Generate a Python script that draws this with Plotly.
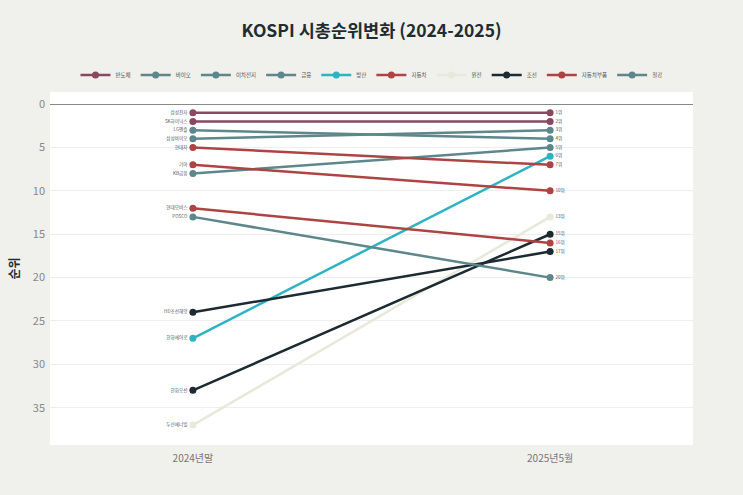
import plotly.graph_objects as go

periods = ["2024년말", "2025년5월"]
companies = ["삼성전자", "SK하이닉스", "삼성바이오", "LG엔솔", "KB금융", "한화에어로",
             "현대차", "기아", "두산에너빌", "한화오션", "현대모비스", "HD조선해양", "POSCO"]
sectors = ["반도체", "반도체", "바이오", "이차전지", "금융", "방산",
           "자동차", "자동차", "원전", "조선", "자동차부품", "조선", "철강"]
rank_2024 = [1, 2, 4, 3, 8, 27, 5, 7, 37, 33, 12, 24, 13]
rank_2025 = [1, 2, 3, 4, 5, 6, 7, 10, 13, 15, 16, 17, 20]

sector_colors = {
    "반도체": "#8A4760",
    "바이오": "#5E878B",
    "이차전지": "#5E878B",
    "금융": "#5E878B",
    "방산": "#2EB3C2",
    "자동차": "#AE4343",
    "원전": "#E8E9DA",
    "조선": "#1C2A31",
    "자동차부품": "#AE4343",
    "철강": "#5E878B",
}

fig = go.Figure()
seen = set()
for name, sec, r0, r1 in zip(companies, sectors, rank_2024, rank_2025):
    show = sec not in seen
    seen.add(sec)
    fig.add_trace(go.Scatter(
        x=periods, y=[r0, r1], name=sec, legendgroup=sec, showlegend=show,
        mode="lines+markers+text",
        line=dict(color=sector_colors[sec], width=2.5),
        marker=dict(color=sector_colors[sec], size=7),
        text=[name, f"{r1}위"],
        textposition=["middle left", "middle right"],
        textfont=dict(size=4.6, color="#555555", family="Noto Sans CJK KR"),
        hovertemplate=name + ": %{y}위<extra></extra>",
    ))

fig.update_layout(
    width=743, height=495,
    paper_bgcolor="#F0F0EC", plot_bgcolor="#FFFFFF",
    margin=dict(l=50, r=50, t=92, b=50),
    font=dict(family="Noto Sans CJK KR", color="#333333"),
    title=dict(text="<b>KOSPI 시총순위변화 (2024-2025)</b>", x=0.5, xanchor="center",
               y=1 - 31 / 495, yanchor="middle", yref="container",
               font=dict(size=17.5, color="#1F2D33", family="Noto Sans CJK KR")),
    legend=dict(orientation="h", x=0.5, xanchor="center", y=1.048, yanchor="middle",
                font=dict(size=5.5, color="#555555"), bgcolor="rgba(0,0,0,0)",
                itemwidth=30, tracegroupgap=0),
    showlegend=True,
)
fig.update_xaxes(type="category", range=[-0.4, 1.4], showgrid=False, zeroline=False,
                 showline=False, tickfont=dict(size=10, color="#777777"), ticks="",
                 ticklabelstandoff=6)
fig.update_yaxes(range=[39.3, -1.4], dtick=5, tick0=0, showgrid=True, gridcolor="#EEEEEE",
                 zeroline=True, zerolinecolor="#888888", zerolinewidth=1,
                 tickfont=dict(size=11, color="#888888"), ticklabelstandoff=4,
                 title=dict(text="<b>순위</b>", font=dict(size=12, color="#1F2D33"), standoff=10))

fig.write_html("out.html")
